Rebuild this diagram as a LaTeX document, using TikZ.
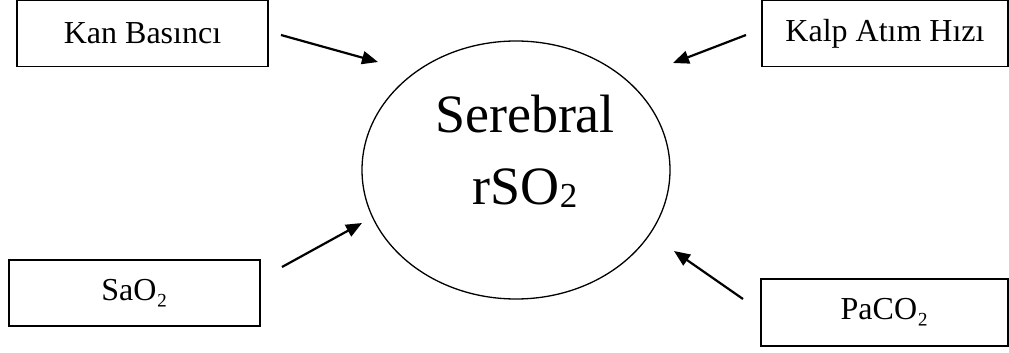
\documentclass[tikz,border=0pt]{standalone}
\usepackage{fontspec}
\setmainfont{Liberation Serif}
\usetikzlibrary{arrows.meta,shapes.geometric}
\tikzset{
  kutu/.style={draw,line width=1.5pt,inner sep=0pt,minimum height=66pt,font=\fontsize{32}{36}\selectfont},
  ok/.style={line width=2.2pt,-{Triangle[length=16pt,width=13pt]}}
}
\begin{document}
\begin{tikzpicture}[x=1pt,y=-1pt]
    \useasboundingbox (0,0) rectangle (1009,353);
    \node[kutu,minimum width=251pt] (kan) at (142.5,33.5) {Kan Basıncı};
    \node[kutu,minimum width=246pt] (kalp) at (885,33.5) {Kalp Atım Hızı};
    \node[kutu,minimum width=251pt] (sao) at (134.5,293) {SaO₂};
    \node[kutu,minimum width=247pt,minimum height=67pt] (paco) at (884.5,312.5) {PaCO₂};
    \node[draw,ellipse,line width=1.3pt,minimum width=308pt,minimum height=258pt] (beyin) at (516,170) {};
    \node[align=center,font=\fontsize{54}{72}\selectfont] (ad) at (525,151) {Serebral\\rSO\raisebox{-3pt}{\fontsize{35}{35}\selectfont 2}};
    \coordinate (k1) at (281,35);  \coordinate (u1) at (378,62);
    \coordinate (k2) at (746,35);  \coordinate (u2) at (673,63);
    \coordinate (k3) at (282,267); \coordinate (u3) at (362,223);
    \coordinate (k4) at (743,299); \coordinate (u4) at (674,251);
    \draw[ok] (k1) -- (u1);
    \draw[ok] (k2) -- (u2);
    \draw[ok] (k3) -- (u3);
    \draw[ok] (k4) -- (u4);
\end{tikzpicture}
\end{document}
